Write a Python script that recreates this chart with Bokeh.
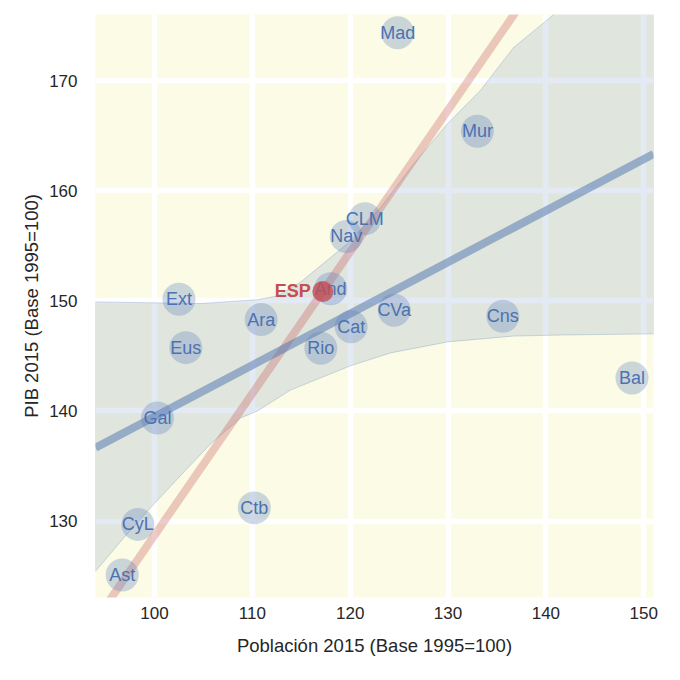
from bokeh.plotting import figure
from bokeh.models import Range1d, ColumnDataSource, FixedTicker
from bokeh.core.properties import value
from bokeh.embed import file_html
from bokeh.resources import INLINE

# Regions: population 2015 vs GDP 2015 (base 1995 = 100)
regions = ["Mad", "Mur", "CLM", "Nav", "And", "Ext", "Ara", "Eus", "Cat", "Rio",
           "CVa", "Cns", "Bal", "Gal", "Ctb", "CyL", "Ast"]
poblacion = [124.85, 133.0, 121.5, 119.6, 118.0, 102.5, 110.9, 103.2, 120.1, 117.0,
             124.5, 135.6, 148.8, 100.3, 110.2, 98.3, 96.7]
pib = [174.35, 165.4, 157.45, 155.85, 151.1, 150.15, 148.3, 145.75, 147.65, 145.7,
       149.15, 148.6, 143.0, 139.35, 131.2, 129.7, 125.1]

# Spain total
esp_label = "ESP"
esp_pob = [117.2]
esp_pib = [150.85]

# Regression line
reg_x = [93.97, 151.0]
reg_y = [136.66, 163.33]

# Confidence band edges
band_up_x = [93.97, 104.7, 110.53, 112.58, 114.93, 119.73, 123.1, 126.5, 129.96, 133.3, 136.7, 140.8, 151.0]
band_up_y = [149.9, 149.75, 150.1, 150.45, 151.7, 155.2, 158.45, 162.45, 166.1, 169.1, 173.0, 176.0, 184.0]
band_lo_x = [93.97, 96.83, 99.59, 103.37, 105.73, 108.79, 110.53, 113.9, 120.04, 124.13, 129.96, 136.7, 141.8, 151.0]
band_lo_y = [125.45, 128.45, 131.2, 134.8, 137.0, 139.36, 140.0, 141.9, 144.1, 145.27, 146.27, 146.8, 146.9, 147.0]

x_ticks = [100, 110, 120, 130, 140, 150]
y_ticks = [130, 140, 150, 160, 170]
x_label = "Población 2015 (Base 1995=100)"
y_label = "PIB 2015 (Base 1995=100)"

FONT = "Liberation Sans"
BLUE = "#4C72B0"
RED = "#C44E52"

p = figure(frame_width=558, frame_height=583, output_backend="svg", toolbar_location=None,
           x_range=Range1d(93.97, 151.0), y_range=Range1d(123.06, 176.0),
           min_border_left=95, min_border_top=14, min_border_right=12, min_border_bottom=68)
p.background_fill_color = "#FBFBE6"
p.border_fill_color = "white"
p.outline_line_color = None

for ax in (p.xaxis, p.yaxis):
    ax.axis_line_color = None
    ax.major_tick_line_color = None
    ax.minor_tick_line_color = None
    ax.major_label_text_font = FONT
    ax.major_label_text_font_size = "17px"
    ax.major_label_text_color = "#262626"
    ax.axis_label_text_font = FONT
    ax.axis_label_text_font_size = "18.5px"
    ax.axis_label_text_font_style = "normal"
    ax.axis_label_text_color = "#262626"

p.xaxis.ticker = FixedTicker(ticks=x_ticks)
p.yaxis.ticker = FixedTicker(ticks=y_ticks)
p.xaxis.axis_label = x_label
p.yaxis.axis_label = y_label
p.xaxis.major_label_standoff = 3
p.yaxis.major_label_standoff = 12
p.xaxis.axis_label_standoff = 13
p.yaxis.axis_label_standoff = 4

p.xgrid.grid_line_color = "white"
p.ygrid.grid_line_color = "white"
p.xgrid.grid_line_width = 5.5
p.ygrid.grid_line_width = 5.5

# confidence band
poly_x = band_up_x + band_lo_x[::-1]
poly_y = band_up_y + band_lo_y[::-1]
p.patch(poly_x, poly_y, fill_color=BLUE, fill_alpha=0.15, line_color=BLUE, line_alpha=0.25, line_width=1)

# line through origin and Spain
ratio = esp_pib[0] / esp_pob[0]
rx = [93.0, 152.0]
ry = [v * ratio for v in rx]
p.line(rx, ry, line_color=RED, line_alpha=0.3, line_width=8)

# regression line
p.line(reg_x, reg_y, line_color=BLUE, line_alpha=0.5, line_width=8)

src = ColumnDataSource(dict(x=poblacion, y=pib, name=regions))
p.scatter("x", "y", source=src, size=33, fill_color="#5A7FB8", fill_alpha=0.3, line_color=None)
p.text("x", "y", text="name", source=src, text_font=value(FONT), text_font_size="18px",
       text_color=BLUE, text_align="center", text_baseline="middle")

p.scatter(esp_pob, esp_pib, size=21, fill_color=RED, fill_alpha=0.8, line_color=None)
p.text(esp_pob, esp_pib, text=[esp_label], text_font=value(FONT), text_font_size="18px",
       text_font_style="bold", text_color=RED, text_align="right", text_baseline="middle",
       x_offset=-12)

open("out.html", "w").write(file_html(p, INLINE))
